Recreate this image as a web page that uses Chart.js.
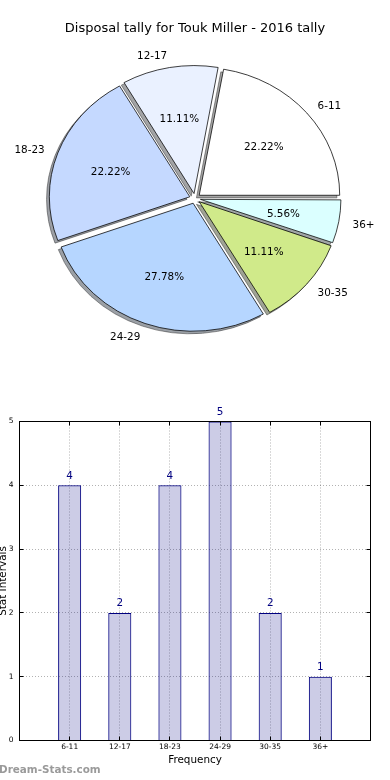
<!DOCTYPE html>
<html>
<head>
<meta charset="utf-8">
<script src="https://cdn.jsdelivr.net/npm/chart.js@4.4.0/dist/chart.umd.min.js"></script>
<style>
  body { margin: 0; background: #fff; }
  .box { position: relative; width: 390px; height: 390px; }
</style>
</head>
<body>
<div class="box"><canvas id="pieGraph"></canvas></div>
<div class="box"><canvas id="barGraph"></canvas></div>
<script>
const categories = ['6-11', '12-17', '18-23', '24-29', '30-35', '36+'];
const tally = [4, 2, 4, 5, 2, 1];

const sliceColors = ['#ffffff', '#eaf1ff', '#c5d9ff', '#b6d6ff', '#d0ea8a', '#dbffff'];
const total = tally.reduce((a, b) => a + b, 0);
const squash = 0.911; // the pie is a bit flatter than round

Chart.defaults.font.family = 'DejaVu Sans';
Chart.defaults.color = '#000';

// wedges run anti-clockwise from 3 o'clock, chart.js runs clockwise, so flip the order
const pieLabels = categories.slice().reverse();
const pieValues = tally.slice().reverse();
const pieColors = sliceColors.slice().reverse();

function squeeze(ctx, el) {
    ctx.translate(el.x, el.y);
    ctx.scale(1, squash);
    ctx.translate(-el.x, -el.y);
}

// chart.js pushes small offset wedges a bit further out, pull them back to the same radius
function drawWedge(ctx, a) {
    const mid = (a.startAngle + a.endAngle) / 2;
    const shift = a.options.offset / 4;
    const grow = shift * (1 - Math.sin(Math.min(Math.PI, a.circumference)));
    const k = a.outerRadius / (a.outerRadius + grow);
    const cx = a.x + Math.cos(mid) * shift, cy = a.y + Math.sin(mid) * shift;
    ctx.save();
    ctx.translate(cx, cy);
    ctx.scale(k, k);
    ctx.translate(-cx, -cy);
    a.draw(ctx);
    ctx.restore();
}

const pieLook = {
    id: 'pieLook',
    beforeDatasetsDraw(chart) {
        const ctx = chart.ctx;
        const arcs = chart.getDatasetMeta(0).data;
        // shadow first, under every wedge
        ctx.save();
        ctx.translate(-2.8, 2.6);
        squeeze(ctx, arcs[0]);
        ctx.filter = 'brightness(0.3) opacity(0.5)';
        arcs.forEach(a => drawWedge(ctx, a));
        ctx.restore();
        ctx.save();
        squeeze(ctx, arcs[0]);
        arcs.forEach(a => drawWedge(ctx, a));
        ctx.restore();
        return false;
    },
    afterDraw(chart) {
        const ctx = chart.ctx;
        const arcs = chart.getDatasetMeta(0).data;
        ctx.save();
        ctx.font = '10.4px DejaVu Sans';
        ctx.fillStyle = '#000';
        ctx.textBaseline = 'middle';
        arcs.forEach((a, i) => {
            const mid = (a.startAngle + a.endAngle) / 2;
            const shift = a.options.offset / 4;
            const cos = Math.cos(mid), sin = Math.sin(mid);
            const lx = a.x + (shift + a.outerRadius * 1.1) * cos;
            const ly = a.y + (shift + a.outerRadius * 1.1) * sin * squash + 1.5;
            ctx.textAlign = cos > 0 ? 'left' : 'right';
            ctx.fillText(pieLabels[i], lx, ly);
            const px = a.x + (shift + a.outerRadius * 0.6) * cos;
            const py = a.y + (shift + a.outerRadius * 0.6) * sin * squash + 1.5;
            ctx.textAlign = 'center';
            ctx.fillText((pieValues[i] / total * 100).toFixed(2) + '%', px, py);
        });
        ctx.restore();
    }
};

new Chart(document.getElementById('pieGraph'), {
    type: 'pie',
    data: {
        labels: pieLabels,
        datasets: [{
            data: pieValues,
            backgroundColor: pieColors,
            borderColor: '#000',
            borderWidth: 0.8,
            offset: 22
        }]
    },
    options: {
        animation: false,
        responsive: true,
        maintainAspectRatio: false,
        rotation: 90,
        radius: 140.5,
        layout: { padding: { top: 0, bottom: 29.6, left: 0, right: 0 } },
        plugins: {
            legend: { display: false },
            tooltip: { enabled: false },
            title: {
                display: true,
                text: 'Disposal tally for Touk Miller - 2016 tally',
                color: '#000',
                font: { size: 13, weight: 'normal' },
                padding: { top: 21, bottom: 0 }
            }
        }
    },
    plugins: [pieLook]
});

// Pie chart end

const barLook = {
    id: 'barLook',
    afterDatasetsDraw(chart) {
        const ctx = chart.ctx;
        const bars = chart.getDatasetMeta(0).data;
        ctx.save();
        ctx.font = '10.4px DejaVu Sans';
        ctx.fillStyle = '#000080';
        ctx.textAlign = 'center';
        ctx.textBaseline = 'middle';
        bars.forEach((b, i) => ctx.fillText(String(tally[i]), b.x, b.y - 9.5));
        ctx.restore();
    },
    afterDraw(chart) {
        const ctx = chart.ctx;
        const {left, right, top, bottom} = chart.chartArea;
        const crisp = p => Math.round(p - 0.5) + 0.5;
        ctx.save();
        ctx.strokeStyle = '#000';
        ctx.lineWidth = 1;
        ctx.beginPath();
        chart.scales.y.ticks.forEach(t => {
            const py = crisp(chart.scales.y.getPixelForValue(t.value));
            ctx.moveTo(left, py); ctx.lineTo(left + 4, py);
            ctx.moveTo(right, py); ctx.lineTo(right - 4, py);
        });
        categories.forEach((c, i) => {
            const px = crisp(chart.scales.x.getPixelForValue(i));
            ctx.moveTo(px, bottom); ctx.lineTo(px, bottom - 4);
            ctx.moveTo(px, top); ctx.lineTo(px, top + 4);
        });
        ctx.stroke();
        ctx.strokeRect(left, top, right - left, bottom - top);
        ctx.font = 'bold 10.4px DejaVu Sans';
        ctx.fillStyle = '#9a9a9a';
        ctx.textAlign = 'left';
        ctx.textBaseline = 'middle';
        ctx.fillText('Dream-Stats.com', -1, 380);
        ctx.restore();
    }
};

new Chart(document.getElementById('barGraph'), {
    type: 'bar',
    data: {
        datasets: [{
            data: tally.map((v, i) => ({ x: i, y: v })),
            backgroundColor: 'rgba(0,0,128,0.2)',
            borderColor: '#000080',
            borderWidth: 1,
            barPercentage: 0.46,
            categoryPercentage: 1
        }]
    },
    options: {
        animation: false,
        responsive: true,
        maintainAspectRatio: false,
        layout: { padding: { top: 31.5, right: 19.5, left: 0, bottom: 0 } },
        plugins: {
            legend: { display: false },
            tooltip: { enabled: false }
        },
        scales: {
            x: {
                type: 'linear',
                min: -1,
                max: 6,
                offset: false,
                ticks: {
                    stepSize: 1,
                    autoSkip: false,
                    maxRotation: 0,
                    padding: 2,
                    font: { size: 7.5 },
                    callback: v => categories[v] || ''
                },
                grid: { offset: false, color: 'rgba(0,0,0,0.3)', drawTicks: false },
                border: { display: false, dash: [1, 2] },
                title: {
                    display: true,
                    text: 'Frequency',
                    font: { size: 10.4 },
                    padding: { top: 0, bottom: 13.8 }
                },
                afterFit: s => { s.height = 39.5; }
            },
            y: {
                min: 0,
                max: 5,
                ticks: { stepSize: 1, padding: 6, font: { size: 7.5 } },
                grid: { color: 'rgba(0,0,0,0.3)', drawTicks: false },
                border: { display: false, dash: [1, 2] },
                title: {
                    display: true,
                    text: 'Stat Intervals',
                    font: { size: 10.4 },
                    padding: { top: -3, bottom: 0 }
                },
                afterFit: s => { s.width = 19.5; }
            }
        }
    },
    plugins: [barLook]
});

// Bar chart end
</script>
</body>
</html>
